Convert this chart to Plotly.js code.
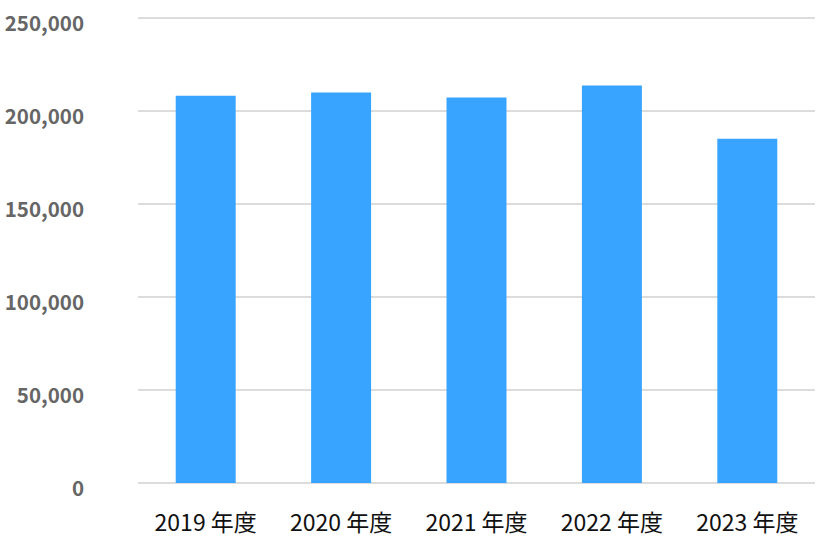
<!DOCTYPE html>
<html>
<head>
<meta charset="utf-8">
<script src="https://cdn.plot.ly/plotly-3.0.1.min.js"></script>
<style>html,body{margin:0;padding:0;background:#fff;}#chart{width:822px;height:544px;}</style>
</head>
<body>
<div id="chart"></div>
<script>
const categories = ["2019 年度", "2020 年度", "2021 年度", "2022 年度", "2023 年度"];
const values = [208200, 210000, 207300, 213700, 185100];
const yTicks = [0, 50000, 100000, 150000, 200000, 250000];

const trace = {
  type: "bar",
  x: categories,
  y: values,
  marker: {color: "#38A4FF", line: {width: 0}},
  hoverinfo: "x+y"
};

const layout = {
  width: 822,
  height: 544,
  margin: {l: 138, r: 7, t: 17, b: 61, pad: 0},
  paper_bgcolor: "#fff",
  plot_bgcolor: "#fff",
  bargap: 0.557,
  showlegend: false,
  font: {family: "'Noto Sans CJK JP', 'Noto Sans', sans-serif"},
  xaxis: {
    type: "category",
    showgrid: false,
    zeroline: false,
    showline: false,
    ticks: "",
    ticklabelstandoff: 24,
    tickfont: {size: 23, color: "#111", family: "'Noto Sans CJK JP', 'Noto Sans', sans-serif"}
  },
  yaxis: {
    range: [0, 250600],
    tickvals: yTicks,
    ticktext: yTicks.map(v => v.toLocaleString("en-US")),
    showgrid: true,
    gridcolor: "#dcdcdc",
    gridwidth: 2,
    zeroline: true,
    zerolinecolor: "#dcdcdc",
    zerolinewidth: 2,
    showline: false,
    ticks: "",
    ticklabelstandoff: 53,
    ticklabelshift: 6,
    tickfont: {size: 20.5, color: "#666", weight: "bold", family: "'Noto Sans CJK JP', 'Noto Sans', sans-serif"}
  }
};

Plotly.newPlot("chart", [trace], layout, {displayModeBar: false, staticPlot: true});
</script>
</body>
</html>
